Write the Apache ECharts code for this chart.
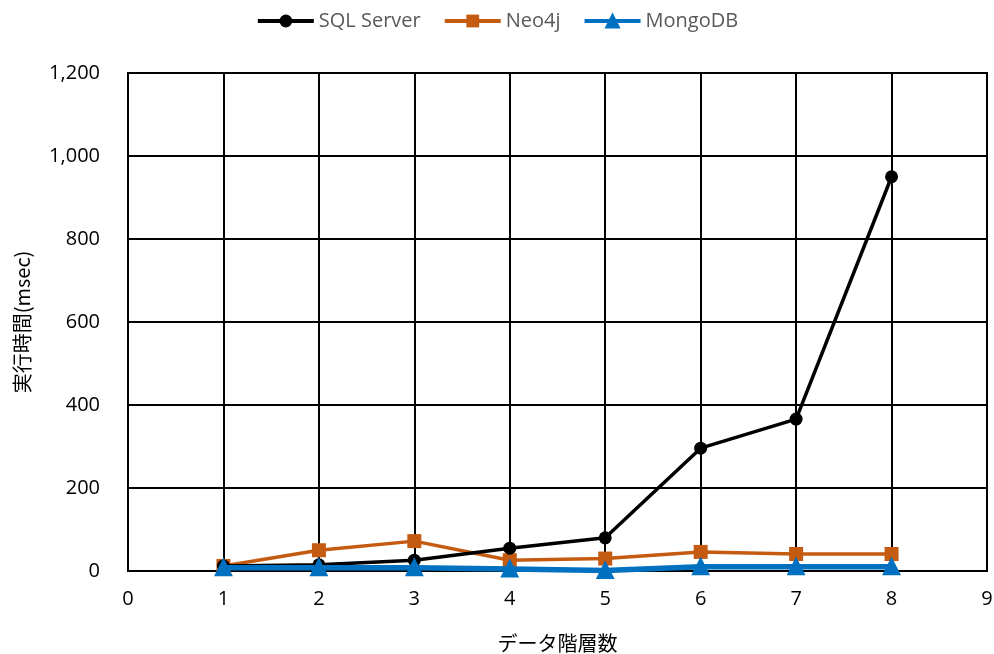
<!DOCTYPE html>
<html><head><meta charset="utf-8">
<script src="https://cdn.jsdelivr.net/npm/echarts@6/dist/echarts.min.js"></script>
<style>html,body{margin:0;padding:0;background:#fff}#c{width:994px;height:654px}</style>
</head><body><div id="c"></div>
<script>
const xValues = [1, 2, 3, 4, 5, 6, 7, 8];
const sqlServer = [12, 15, 26, 55, 80, 296, 366, 950];
const neo4j = [12, 50, 72, 26, 30, 46, 41, 41];
const mongoDB = [8, 8, 8, 5, 1, 10, 10, 10];
const seriesNames = ['SQL Server', 'Neo4j', 'MongoDB'];

const pair = arr => xValues.map((x, i) => [x, arr[i]]);
const chart = echarts.init(document.getElementById('c'), null, {renderer: 'canvas'});
const font = "'Open Sans', 'Noto Sans CJK JP', sans-serif";
const cjkFont = "'Noto Sans CJK JP', 'Open Sans', sans-serif";
chart.setOption({
  animation: false,
  backgroundColor: '#fff',
  legend: {
    top: 6, left: 'center', itemWidth: 56, itemHeight: 16, itemGap: 22,
    textStyle: {color: '#595959', fontSize: 20, fontFamily: font},
    lineStyle: {width: 4},
    data: seriesNames
  },
  grid: {left: 128, right: 7, top: 73, bottom: 83, show: true, borderColor: '#000', borderWidth: 2,
         outerBoundsMode: 'none', containLabel: false},
  xAxis: {
    type: 'value', min: 0, max: 9, interval: 1,
    name: 'データ階層数', nameLocation: 'middle', nameGap: 62,
    nameTextStyle: {color: '#000', fontSize: 20, fontFamily: cjkFont},
    axisLine: {lineStyle: {color: '#000', width: 2}},
    axisTick: {show: false},
    axisLabel: {color: '#000', fontSize: 20, fontFamily: font, margin: 18},
    splitLine: {show: true, lineStyle: {color: '#000', width: 2}}
  },
  yAxis: {
    type: 'value', min: 0, max: 1200, interval: 200,
    name: '実行時間(msec)', nameLocation: 'middle', nameGap: 96, nameRotate: 90,
    nameTextStyle: {color: '#000', fontSize: 20, fontFamily: cjkFont},
    axisLine: {show: true, lineStyle: {color: '#000', width: 2}},
    axisTick: {show: false},
    axisLabel: {color: '#000', fontSize: 20, fontFamily: font, margin: 28,
      formatter: v => v.toLocaleString('en-US')},
    splitLine: {show: true, lineStyle: {color: '#000', width: 2}}
  },
  series: [
    {name: seriesNames[0], type: 'line', data: pair(sqlServer), symbol: 'circle', symbolSize: 13,
     itemStyle: {color: '#000'}, lineStyle: {color: '#000', width: 3.5}, z: 3},
    {name: seriesNames[1], type: 'line', data: pair(neo4j), symbol: 'rect', symbolSize: 14,
     itemStyle: {color: '#C55A11'}, lineStyle: {color: '#C55A11', width: 3.5}, z: 2},
    {name: seriesNames[2], type: 'line', data: pair(mongoDB), symbol: 'triangle', symbolSize: 14,
     itemStyle: {color: '#0070C0', borderColor: '#0070C0', borderWidth: 3}, lineStyle: {color: '#0070C0', width: 5.5}, z: 4}
  ]
});
</script></body></html>
